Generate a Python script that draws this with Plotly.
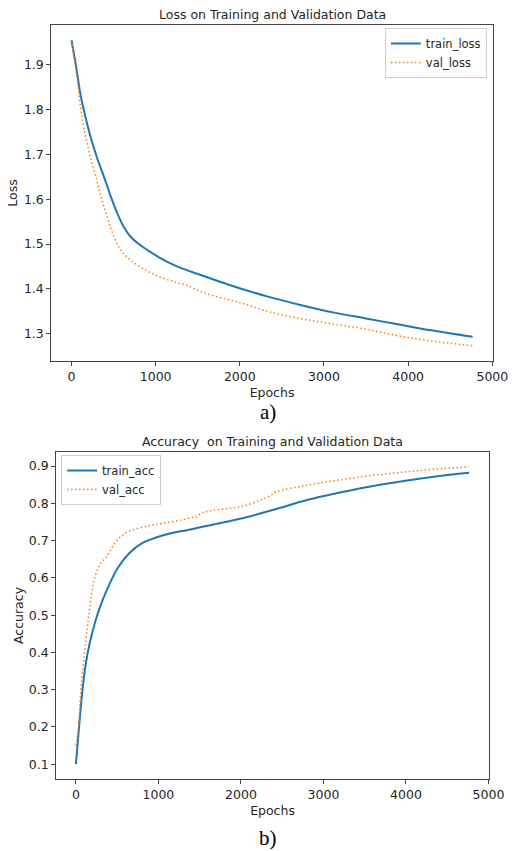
import plotly.graph_objects as go

# ---- Loss data ----
train_loss_epochs = [0, 50, 108, 146, 223, 300, 396, 475, 560, 629, 700, 800, 900, 1045, 1233,
                     1611, 1988, 2366, 2743, 3121, 3498, 3876, 4253, 4766]
train_loss = [1.955, 1.902, 1.833, 1.800, 1.742, 1.695, 1.645, 1.602, 1.562, 1.536, 1.517,
              1.500, 1.487, 1.470, 1.452, 1.426, 1.402, 1.381, 1.363, 1.347, 1.334, 1.321,
              1.308, 1.293]

val_loss_epochs = [0, 40, 69, 108, 166, 223, 300, 350, 435, 478, 560, 667, 856, 1045, 1233,
                   1384, 1460, 1611, 1988, 2366, 2743, 3121, 3498, 3876, 4253, 4766]
val_loss = [1.955, 1.905, 1.866, 1.805, 1.742, 1.695, 1.643, 1.605, 1.555, 1.530, 1.494,
            1.470, 1.445, 1.427, 1.415, 1.4075, 1.400, 1.389, 1.370, 1.348, 1.333, 1.321,
            1.310, 1.2955, 1.2843, 1.2731]

# ---- Accuracy data ----
train_acc_epochs = [0, 40, 80, 120, 160, 235, 314, 400, 509, 646, 803, 1038, 1429, 2016,
                    2429, 2800, 3201, 3587, 3973, 4359, 4766]
train_acc = [0.100, 0.205, 0.300, 0.370, 0.418, 0.483, 0.535, 0.580, 0.627, 0.666, 0.693,
             0.713, 0.732, 0.760, 0.785, 0.809, 0.829, 0.846, 0.860, 0.872, 0.882]

val_acc_epochs = [0, 31, 59, 106, 157, 216, 290, 372, 450, 529, 646, 885, 1038, 1271, 1429,
                  1470, 1530, 1657, 2016, 2250, 2350, 2430, 2815, 3201, 3587, 3973, 4359, 4766]
val_acc = [0.150, 0.200, 0.300, 0.400, 0.500, 0.590, 0.635, 0.657, 0.686, 0.708, 0.725,
           0.740, 0.746, 0.755, 0.763, 0.765, 0.775, 0.781, 0.792, 0.810, 0.820, 0.831,
           0.849, 0.863, 0.875, 0.884, 0.892, 0.898]

x_ticks = [0, 1000, 2000, 3000, 4000, 5000]
loss_ticks = [1.3, 1.4, 1.5, 1.6, 1.7, 1.8, 1.9]
acc_ticks = [0.1, 0.2, 0.3, 0.4, 0.5, 0.6, 0.7, 0.8, 0.9]

BLUE = "#1f77b4"
ORANGE = "#ff7f0e"
FONT = "DejaVu Sans"
W, H = 531, 851


def pad(lo, hi, frac=0.05):
    d = hi - lo
    return [lo - frac * d, hi + frac * d]


xmax = max(train_loss_epochs + val_loss_epochs)
x_range = pad(0, xmax)
loss_range = pad(min(train_loss + val_loss), max(train_loss + val_loss))
acc_range = pad(min(train_acc + val_acc), max(train_acc + val_acc))

solid = dict(color=BLUE, width=2, shape="spline", smoothing=1.0)
dotted = dict(color=ORANGE, width=1.5, dash="1.5px,2.5px", shape="spline", smoothing=1.0)

fig = go.Figure()
fig.add_trace(go.Scatter(x=train_loss_epochs, y=train_loss, name="train_loss", mode="lines",
                         line=solid, xaxis="x", yaxis="y", legend="legend"))
fig.add_trace(go.Scatter(x=val_loss_epochs, y=val_loss, name="val_loss", mode="lines",
                         line=dotted, xaxis="x", yaxis="y", legend="legend"))
fig.add_trace(go.Scatter(x=train_acc_epochs, y=train_acc, name="train_acc", mode="lines",
                         line=solid, xaxis="x2", yaxis="y2", legend="legend2"))
fig.add_trace(go.Scatter(x=val_acc_epochs, y=val_acc, name="val_acc", mode="lines",
                         line=dotted, xaxis="x2", yaxis="y2", legend="legend2"))


def px_x(p):
    return p / W


def px_y(p):
    return 1 - p / H


axis_common = dict(showgrid=False, zeroline=False, showline=True, linecolor="#444",
                   linewidth=1.2, mirror=True, ticks="outside", ticklen=4, tickwidth=1,
                   tickcolor="#444", tickfont=dict(family=FONT, size=12.5, color="#262626"))

fig.update_layout(
    width=W, height=H,
    margin=dict(l=0, r=0, t=0, b=0),
    paper_bgcolor="white", plot_bgcolor="white",
    font=dict(family=FONT, color="#262626"),
    xaxis=dict(domain=[px_x(53), px_x(508)], anchor="y", range=x_range, tickvals=x_ticks,
               title=dict(text="Epochs", font=dict(family=FONT, size=12.5), standoff=5),
               **axis_common),
    yaxis=dict(domain=[px_y(361), px_y(25)], anchor="x", range=loss_range, tickvals=loss_ticks,
               tickformat=".1f",
               title=dict(text="Loss", font=dict(family=FONT, size=12.5), standoff=3),
               **axis_common),
    xaxis2=dict(domain=[px_x(58), px_x(504)], anchor="y2", range=x_range, tickvals=x_ticks,
                title=dict(text="Epochs", font=dict(family=FONT, size=12.5), standoff=5),
                **axis_common),
    yaxis2=dict(domain=[px_y(779), px_y(452)], anchor="x2", range=acc_range, tickvals=acc_ticks,
                tickformat=".1f",
                title=dict(text="Accuracy", font=dict(family=FONT, size=12.5), standoff=2),
                **axis_common),
    legend=dict(x=px_x(502), y=px_y(28), xanchor="right", yanchor="top",
                bgcolor="rgba(255,255,255,0.8)", bordercolor="#d0d0d0", borderwidth=1,
                font=dict(family=FONT, size=11.5), tracegroupgap=0, itemwidth=30),
    legend2=dict(x=px_x(63), y=px_y(455), xanchor="left", yanchor="top",
                 bgcolor="rgba(255,255,255,0.8)", bordercolor="#d0d0d0", borderwidth=1,
                 font=dict(family=FONT, size=11.5), tracegroupgap=0, itemwidth=30),
    showlegend=True,
)

annotations = [
    dict(text="Loss on Training and Validation Data", x=px_x(280.5), y=px_y(14),
         font=dict(family=FONT, size=12.5)),
    dict(text="Accuracy  on Training and Validation Data", x=px_x(281), y=px_y(441),
         font=dict(family=FONT, size=12.5)),
    dict(text="a)", x=px_x(276), y=px_y(412), font=dict(family="Liberation Serif", size=21, color="black")),
    dict(text="b)", x=px_x(276), y=px_y(838), font=dict(family="Liberation Serif", size=21, color="black")),
]
for a in annotations:
    a.update(xref="paper", yref="paper", showarrow=False, xanchor="center", yanchor="middle")
fig.update_layout(annotations=annotations)

fig.write_html("out.html", config={"displayModeBar": False},
               post_script="document.body.style.margin='0';document.body.style.overflow='hidden';")
